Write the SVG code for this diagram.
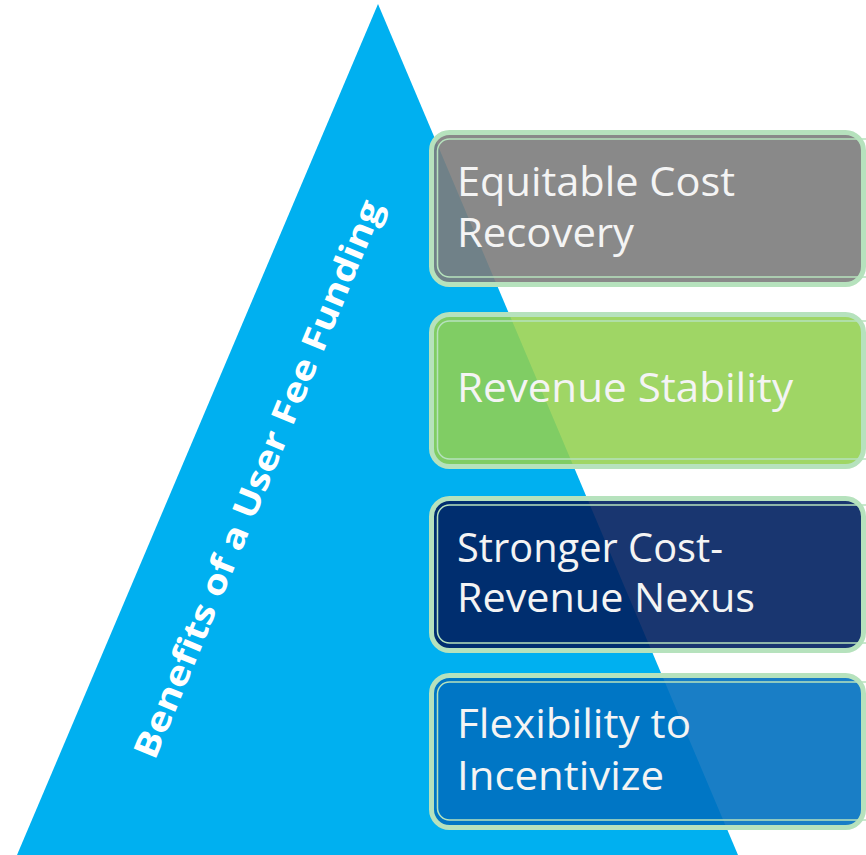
<svg xmlns="http://www.w3.org/2000/svg" width="866" height="855" viewBox="0 0 866 855">
<style>
.box{stroke:#b6e2bd;stroke-width:5}
.inner{fill:none;stroke:#b6e2bd;stroke-width:1.5}
.lbl{font-family:"Open Sans","Liberation Sans",sans-serif;font-size:40px;fill:#f4f4f4}
.title{font-family:"Open Sans","Liberation Sans",sans-serif;font-size:34px;font-weight:bold;fill:#ffffff}
</style>
<rect width="866" height="855" fill="#ffffff"/>
<g id="pyramid">
<polygon points="378,4 17,855 738,855" fill="#00b0f0"/>
<text class="title" transform="translate(258,479) rotate(-67.6)" x="0" y="12" text-anchor="middle" textLength="600" lengthAdjust="spacingAndGlyphs">Benefits of a User Fee Funding</text>
</g>
<g id="node1">
<rect class="box" x="431.5" y="132.5" width="432" height="152" rx="18" fill="#7c7c7c" fill-opacity="0.9"/>
<rect class="inner" x="437.5" y="139" width="440" height="138" rx="12"/>
<text class="lbl" x="457" y="196" textLength="278" lengthAdjust="spacingAndGlyphs">Equitable Cost</text>
<text class="lbl" x="457" y="247" textLength="177" lengthAdjust="spacingAndGlyphs">Recovery</text>
</g>
<g id="node2">
<rect class="box" x="431.5" y="314.5" width="432" height="152" rx="18" fill="#92d050" fill-opacity="0.88"/>
<rect class="inner" x="437.5" y="321" width="440" height="138" rx="12"/>
<text class="lbl" x="457" y="402" textLength="336" lengthAdjust="spacingAndGlyphs">Revenue Stability</text>
</g>
<g id="node3">
<rect class="box" x="431.5" y="498.5" width="432" height="152" rx="18" fill="#002060" fill-opacity="0.9"/>
<rect class="inner" x="437.5" y="505" width="440" height="138" rx="12"/>
<text class="lbl" x="457" y="562" textLength="266" lengthAdjust="spacingAndGlyphs">Stronger Cost-</text>
<text class="lbl" x="457" y="612" textLength="298" lengthAdjust="spacingAndGlyphs">Revenue Nexus</text>
</g>
<g id="node4">
<rect class="box" x="431.5" y="675.5" width="432" height="152" rx="18" fill="#0070c0" fill-opacity="0.9"/>
<rect class="inner" x="437.5" y="682" width="440" height="138" rx="12"/>
<text class="lbl" x="457" y="738" textLength="234" lengthAdjust="spacingAndGlyphs">Flexibility to</text>
<text class="lbl" x="457" y="790" textLength="207" lengthAdjust="spacingAndGlyphs">Incentivize</text>
</g>
<g id="connectors"></g>
</svg>
